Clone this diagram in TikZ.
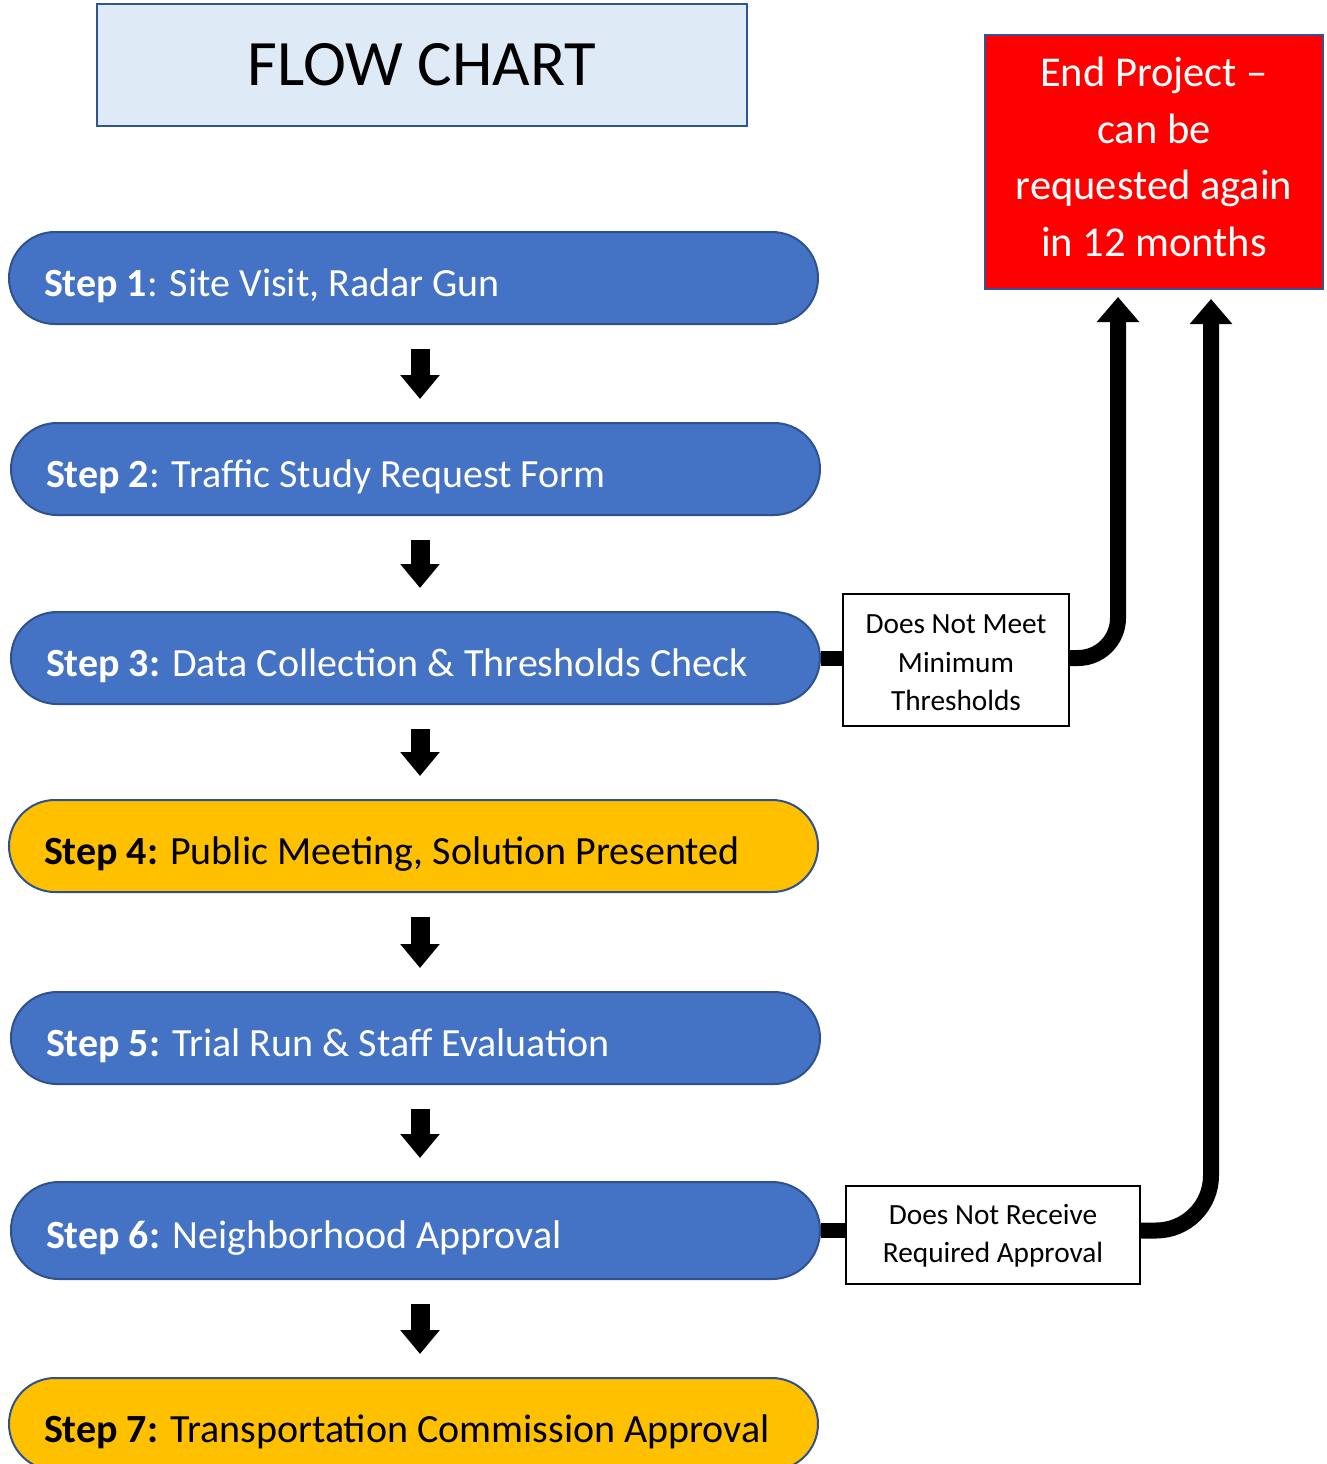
\documentclass[tikz,border=0pt]{standalone}
\usepackage{fontspec}
\setmainfont{Carlito}
\usetikzlibrary{arrows.meta,calc}
\definecolor{pillblue}{HTML}{4472C4}
\definecolor{pilledge}{HTML}{2F528F}
\definecolor{pillyellow}{HTML}{FFC000}
\definecolor{titlefill}{HTML}{DEEBF7}
\definecolor{titleedge}{HTML}{2F5597}
\definecolor{endred}{HTML}{FF0000}
\newcommand{\steptext}[1]{\makebox[739pt][l]{#1}}
\tikzset{
  pill/.style={draw=pilledge, line width=2pt, rounded corners=46pt, minimum height=92pt,
    inner xsep=35pt, inner ysep=0pt, text height=40pt, text depth=4pt,
    font=\fontsize{40}{48}\selectfont, anchor=west},
  bluepill/.style={pill, fill=pillblue, text=white},
  yellowpill/.style={pill, fill=pillyellow, text=black},
  downarrow/.style={line width=19pt, -{Triangle[width=38pt,length=24pt]}},
  uparrow/.style={line width=16pt, -{Triangle[width=41pt,length=25pt]}},
  labelbox/.style={draw=black, line width=1.5pt, fill=white, inner sep=0pt},
  labeltext/.style={align=center, inner sep=0pt, font=\fontsize{29.3}{38.5}\selectfont},
  joinline/.style={line width=15pt}
}
\begin{document}
\begin{tikzpicture}[x=1pt,y=-1pt]
\useasboundingbox (0,0) rectangle (1327,1464);
% title
\node[draw=titleedge, line width=2pt, fill=titlefill, minimum width=650pt, minimum height=122pt,
  inner sep=0pt, font=\fontsize{64.8}{70}\selectfont] (title) at (422,65) {FLOW CHART};
% end box
\node[draw=titleedge, line width=2pt, fill=endred, minimum width=338pt, minimum height=254pt,
  inner sep=0pt] (endbox) at (1154,162) {};
\node[text=white, align=center, inner sep=0pt, font=\fontsize{42.5}{56.5}\selectfont] (endtext) at (1154,157)
  {End Project --\\can be\\requested again\\in 12 months};
% steps
\node[bluepill] (s1) at (8,278) {\steptext{\textbf{Step 1}: Site Visit, Radar Gun}};
\node[bluepill] (s2) at (10,469) {\steptext{\textbf{Step 2}: Traffic Study Request Form}};
\node[bluepill] (s3) at (10,658) {\steptext{\textbf{Step 3:} Data Collection \& Thresholds Check}};
\node[yellowpill] (s4) at (8,846) {\steptext{\textbf{Step 4:} Public Meeting, Solution Presented}};
\node[bluepill] (s5) at (10,1038) {\steptext{\textbf{Step 5:} Trial Run \& Staff Evaluation}};
\node[bluepill, minimum height=97pt, rounded corners=48pt] (s6) at (10,1230.5) {\steptext{\textbf{Step 6:} Neighborhood Approval}};
\node[yellowpill] (s7) at (8,1424) {\steptext{\textbf{Step 7:} Transportation Commission Approval}};
% down arrows
\coordinate (ax) at (420,0);
\foreach \a/\b in {s1/s2,s2/s3,s3/s4,s4/s5,s5/s6,s6/s7}{
  \draw[downarrow] ($(ax |- \a.south)+(0,24)$) -- ($(ax |- \b.north)+(0,-23)$);
}
% label boxes
\node[labelbox, minimum width=226pt, minimum height=132pt] (lab1) at (956,660) {};
\node[labeltext] at (956,663) {Does Not Meet\\Minimum\\Thresholds};
\node[labelbox, minimum width=294pt, minimum height=98pt] (lab2) at (993,1235) {};
\node[labeltext] at (993,1236) {Does Not Receive\\Required Approval};
% connectors
\draw[joinline] (s3.east) -- (s3.east -| lab1.west);
\draw[uparrow, rounded corners=40pt] (s3.east -| lab1.east) -| ([xshift=-36pt,yshift=-7pt]endbox.south);
\draw[joinline] (s6.east) -- (s6.east -| lab2.west);
\draw[uparrow, rounded corners=55pt] (s6.east -| lab2.east) -| ([xshift=57pt,yshift=-9pt]endbox.south);
\end{tikzpicture}
\end{document}
